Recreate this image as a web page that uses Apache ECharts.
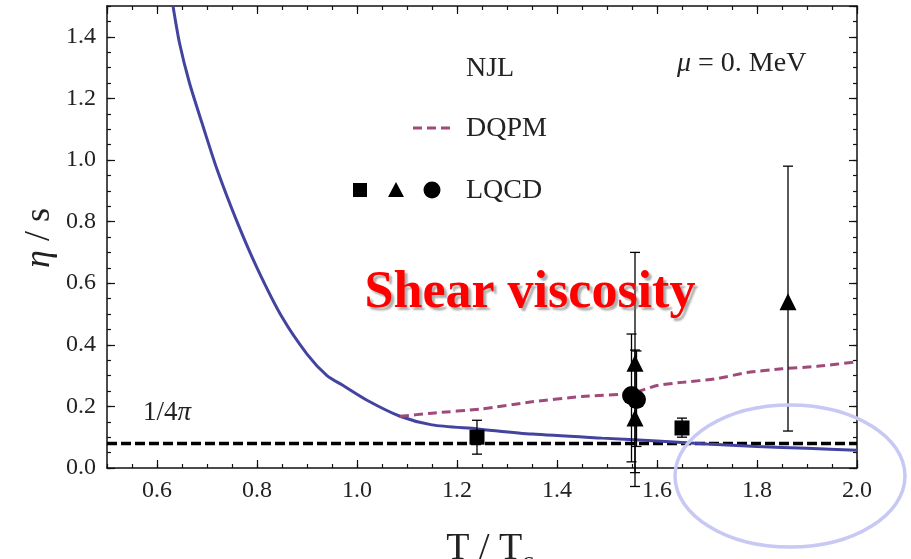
<!DOCTYPE html>
<html>
<head>
<meta charset="utf-8">
<script src="https://cdn.jsdelivr.net/npm/echarts@6/dist/echarts.min.js"></script>
<style>
html, body { margin: 0; padding: 0; background: #fff; }
#main { width: 911px; height: 559px; }
</style>
</head>
<body>
<div id="main"></div>
<script>
// NJL curve (solid blue)
var njlT   = [0.632, 0.645, 0.665, 0.69, 0.72, 0.76, 0.80, 0.85, 0.90, 0.94, 0.97, 1.02, 1.086, 1.15, 1.24, 1.35, 1.49, 1.6, 1.7, 1.8, 1.9, 2.0];
var njlEta = [1.5, 1.38, 1.25, 1.12, 0.97, 0.80, 0.65, 0.49, 0.37, 0.30, 0.27, 0.22, 0.168, 0.14, 0.127, 0.11, 0.097, 0.088, 0.078, 0.07, 0.064, 0.058];

// DQPM curve (dashed)
var dqpmT   = [1.086, 1.15, 1.25, 1.35, 1.45, 1.55, 1.6, 1.65, 1.72, 1.78, 1.85, 1.92, 2.0];
var dqpmEta = [0.168, 0.178, 0.192, 0.215, 0.232, 0.243, 0.268, 0.278, 0.29, 0.31, 0.322, 0.33, 0.345];

// lower bound 1/4pi
var kssT = [0.5, 2.0];
var kss = 1 / (4 * Math.PI);

// LQCD points with error bars
var sqT  = [1.24, 1.65];
var sqEta = [0.10, 0.13];
var sqLo = [0.045, 0.10];
var sqHi = [0.155, 0.162];

var triT  = [1.556, 1.556, 1.862];
var triEta = [0.34, 0.162, 0.54];
var triLo = [-0.015, -0.06, 0.12];
var triHi = [0.70, 0.383, 0.98];

var cirT  = [1.549, 1.559];
var cirEta = [0.235, 0.222];
var cirLo = [0.02, 0.07];
var cirHi = [0.435, 0.38];

var serif = '"Liberation Serif", "DejaVu Serif", serif';

function pairs(xs, ys) {
    return xs.map(function (x, i) { return [x, ys[i]]; });
}
function bars(xs, lo, hi) {
    return xs.map(function (x, i) { return [x, lo[i], hi[i]]; });
}
var errData = bars(sqT, sqLo, sqHi).concat(bars(triT, triLo, triHi), bars(cirT, cirLo, cirHi));

function renderErr(params, api) {
    var top = api.coord([api.value(0), api.value(2)]);
    var bot = api.coord([api.value(0), api.value(1)]);
    var w = 5;
    var st = { stroke: '#000', lineWidth: 1.3 };
    return {
        type: 'group',
        children: [
            { type: 'line', shape: { x1: top[0], y1: top[1], x2: bot[0], y2: bot[1] }, style: st },
            { type: 'line', shape: { x1: top[0] - w, y1: top[1], x2: top[0] + w, y2: top[1] }, style: st },
            { type: 'line', shape: { x1: bot[0] - w, y1: bot[1], x2: bot[0] + w, y2: bot[1] }, style: st }
        ]
    };
}

function mkAxis(pos, major, isX) {
    var a = {
        type: 'value',
        position: pos,
        min: isX ? 0.5 : 0,
        max: isX ? 2.0 : 1.5,
        splitLine: { show: false },
        axisLine: { show: major, onZero: false, lineStyle: { color: '#111', width: 1.5 } },
        axisTick: { show: true, inside: true, length: major ? 8 : 4, lineStyle: { color: '#111', width: 1.2 } },
        axisLabel: { show: false }
    };
    if (major) {
        if (isX) a.splitNumber = 7; else a.interval = 0.2;
    } else {
        a.interval = 0.05;
    }
    if (major && (pos === 'bottom' || pos === 'left')) {
        a.axisLabel = {
            show: true,
            showMinLabel: isX ? false : true,
            showMaxLabel: isX ? true : false,
            formatter: function (v) { return v.toFixed(1); },
            fontFamily: serif,
            fontSize: 24,
            color: '#222',
            margin: 11
        };
    }
    return a;
}

var myChart = echarts.init(document.getElementById('main'));

var option = {
    animation: false,
    backgroundColor: '#fff',
    grid: { left: 107, right: 54, top: 6, bottom: 91, containLabel: false },
    xAxis: [mkAxis('bottom', true, true), mkAxis('bottom', false, true), mkAxis('top', true, true), mkAxis('top', false, true)],
    yAxis: [mkAxis('left', true, false), mkAxis('left', false, false), mkAxis('right', true, false), mkAxis('right', false, false)],
    series: [
        {
            name: '1/4pi', type: 'line', symbol: 'none',
            data: kssT.map(function (t) { return [t, kss]; }),
            lineStyle: { color: '#000', width: 3.5, type: [10, 4] },
            z: 3
        },
        {
            name: 'NJL', type: 'line', symbol: 'none', smooth: 0.25,
            data: pairs(njlT, njlEta),
            lineStyle: { color: '#4343a0', width: 3 },
            z: 4
        },
        {
            name: 'DQPM', type: 'line', symbol: 'none', smooth: 0.2,
            data: pairs(dqpmT, dqpmEta),
            lineStyle: { color: '#a04a7c', width: 3, type: [9, 5] },
            z: 4
        },
        {
            name: 'err', type: 'custom', renderItem: renderErr,
            data: errData, z: 5, clip: false
        },
        {
            name: 'LQCD sq', type: 'scatter', symbol: 'rect', symbolSize: 15,
            data: pairs(sqT, sqEta), itemStyle: { color: '#000', opacity: 1 }, z: 6
        },
        {
            name: 'LQCD tri', type: 'scatter', symbol: 'triangle', symbolSize: 17,
            data: pairs(triT, triEta), itemStyle: { color: '#000', opacity: 1 }, z: 6
        },
        {
            name: 'LQCD cir', type: 'scatter', symbol: 'circle', symbolSize: 19,
            data: pairs(cirT, cirEta), itemStyle: { color: '#000', opacity: 1 }, z: 6
        }
    ],
    graphic: [
        { type: 'text', left: 466, top: 55, style: { text: 'NJL', font: '28px ' + serif, fill: '#222' } },
        { type: 'line', shape: { x1: 413, y1: 128, x2: 451, y2: 128 }, style: { stroke: '#a04a7c', lineWidth: 3, lineDash: [9, 5] } },
        { type: 'text', left: 466, top: 115, style: { text: 'DQPM', font: '28px ' + serif, fill: '#222' } },
        { type: 'rect', shape: { x: 353, y: 183, width: 14, height: 14 }, style: { fill: '#000' } },
        { type: 'polygon', shape: { points: [[396, 182], [404, 197], [388, 197]] }, style: { fill: '#000' } },
        { type: 'circle', shape: { cx: 432, cy: 190, r: 8.5 }, style: { fill: '#000' } },
        { type: 'text', left: 466, top: 177, style: { text: 'LQCD', font: '28px ' + serif, fill: '#222' } },
        {
            type: 'text', left: 677, top: 50,
            style: {
                text: '{i|μ} = 0. MeV',
                font: '28px ' + serif, fill: '#222',
                rich: { i: { fontStyle: 'italic', fontFamily: serif, fontSize: 28 } }
            }
        },
        {
            type: 'text', left: 143, top: 399,
            style: {
                text: '1/4{i|π}', font: '27px ' + serif, fill: '#222',
                rich: { i: { fontStyle: 'italic', fontFamily: serif, fontSize: 27 } }
            }
        },
        {
            type: 'text', x: 530, y: 294, z: 50,
            style: {
                text: 'Shear viscosity',
                font: 'bold 52px ' + serif,
                fill: '#ff0000',
                align: 'center', verticalAlign: 'middle',
                textShadowColor: 'rgba(120,120,120,0.6)',
                textShadowOffsetX: 3, textShadowOffsetY: 3, textShadowBlur: 2
            }
        },
        {
            type: 'text', x: 40, y: 238, rotation: Math.PI / 2, z: 50,
            style: {
                text: '{i|η} / s', font: '36px ' + serif, fill: '#222',
                align: 'center', verticalAlign: 'middle',
                rich: { i: { fontStyle: 'italic', fontFamily: serif, fontSize: 36 } }
            }
        },
        {
            type: 'text', x: 490, y: 523, z: 50,
            style: {
                text: 'T / T{s|c}', font: '38px ' + serif, fill: '#222',
                align: 'center', verticalAlign: 'top',
                rich: { s: { fontFamily: serif, fontSize: 26, padding: [26, 0, 0, 0] } }
            }
        },
        {
            type: 'ellipse', z: 100,
            shape: { cx: 790, cy: 476, rx: 115, ry: 71 },
            style: { fill: 'none', stroke: '#c8c8f4', lineWidth: 3.5 }
        }
    ]
};

myChart.setOption(option);
</script>
</body>
</html>
